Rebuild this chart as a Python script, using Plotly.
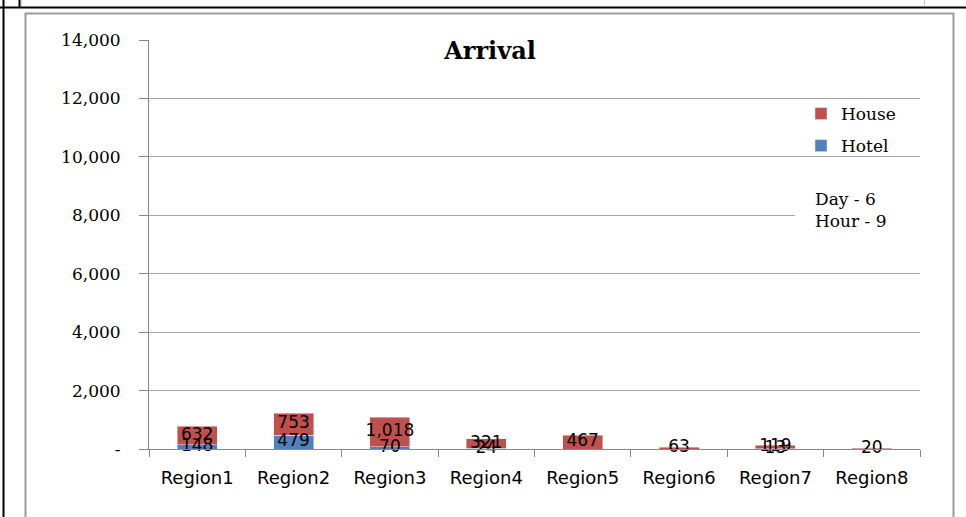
import plotly.graph_objects as go

categories = ["Region1", "Region2", "Region3", "Region4", "Region5", "Region6", "Region7", "Region8"]
hotel = [148, 479, 70, 24, 0, 0, 13, 0]
house = [632, 753, 1018, 321, 467, 63, 119, 20]
y_tickvals = [0, 2000, 4000, 6000, 8000, 10000, 12000, 14000]
y_ticktext = ["-", "2,000", "4,000", "6,000", "8,000", "10,000", "12,000", "14,000"]
title_text = "Arrival"
info_text = "Day - 6<br>Hour - 9"

RED = "#C0504D"
BLUE = "#4F81BD"
GRID = "#a6a6a6"
AXIS = "#888888"

fig = go.Figure()
fig.add_trace(go.Bar(x=categories, y=hotel, name="Hotel", marker_color=BLUE,
                     legendgroup="b", legendrank=2, hoverinfo="x+y+name"))
fig.add_trace(go.Bar(x=categories, y=house, name="House", marker_color=RED,
                     legendgroup="a", legendrank=1, hoverinfo="x+y+name"))

# data labels centred in each segment
lab_font = dict(family="DejaVu Sans", size=17, color="black")
fig.add_trace(go.Scatter(
    x=categories, y=[h / 2 for h in hotel], mode="text",
    text=[f"{v:,}" if v else "" for v in hotel], textfont=lab_font,
    cliponaxis=False, showlegend=False, hoverinfo="skip"))
fig.add_trace(go.Scatter(
    x=categories, y=[h + v / 2 for h, v in zip(hotel, house)], mode="text",
    text=[f"{v:,}" if v else "" for v in house], textfont=lab_font,
    cliponaxis=False, showlegend=False, hoverinfo="skip"))

L, R, T, B = 149, 46, 40, 68
W, H = 966, 517
pw, ph = W - L - R, H - T - B

def px(x):
    return (x - L) / pw

def py(y):
    return (H - B - y) / ph

shapes = [
    # chart frame
    dict(type="rect", xref="paper", yref="paper", x0=px(25.5), x1=px(953.5),
         y0=py(13.5), y1=py(540), line=dict(color="#9a9a9a", width=2), layer="below"),
    # page lines
    dict(type="line", xref="paper", yref="paper", x0=px(3.5), x1=px(3.5),
         y0=py(0), y1=py(540), line=dict(color="black", width=2)),
    dict(type="line", xref="paper", yref="paper", x0=px(0), x1=px(966),
         y0=py(7.5), y1=py(7.5), line=dict(color="black", width=2)),
    dict(type="line", xref="paper", yref="paper", x0=px(19.5), x1=px(19.5),
         y0=py(0), y1=py(7.5), line=dict(color="black", width=2)),
    dict(type="line", xref="paper", yref="paper", x0=px(21.5), x1=px(21.5),
         y0=py(0), y1=py(6), line=dict(color="#cccccc", width=1)),
    dict(type="line", xref="paper", yref="paper", x0=px(924.5), x1=px(924.5),
         y0=py(0), y1=py(6), line=dict(color="#cccccc", width=1)),
    # white box behind Day/Hour text
    dict(type="rect", xref="paper", yref="paper", x0=px(795), x1=px(921),
         y0=py(240), y1=py(178), fillcolor="white", line=dict(width=0), layer="above"),
]

fig.update_layout(
    width=W, height=H,
    margin=dict(l=L, r=R, t=T, b=B),
    paper_bgcolor="white", plot_bgcolor="white",
    barmode="stack", bargap=0.585,
    showlegend=True,
    legend=dict(x=px(801), y=py(96), xanchor="left", yanchor="top",
                traceorder="grouped", tracegroupgap=7,
                font=dict(family="DejaVu Serif", size=17, color="black"),
                bgcolor="rgba(0,0,0,0)"),
    title=dict(text=title_text, x=490 / W, y=1 - 51 / H, xref="container", yref="container",
               xanchor="center", yanchor="middle",
               font=dict(family="DejaVu Serif", size=24, color="black", weight="bold")),
    shapes=shapes,
    annotations=[dict(text=info_text, xref="paper", yref="paper", x=px(813), y=py(210),
                      xanchor="left", yanchor="middle", align="left", showarrow=False,
                      font=dict(family="DejaVu Serif", size=17, color="black"))],
    xaxis=dict(showline=True, linecolor=AXIS, linewidth=1, ticks="outside",
               tickson="boundaries", ticklen=7, tickcolor=AXIS, showgrid=False,
               tickfont=dict(family="DejaVu Sans", size=18, color="black"),
               ticklabelstandoff=12),
    yaxis=dict(range=[0, 14000], tickvals=y_tickvals, ticktext=y_ticktext,
               showline=True, linecolor=AXIS, linewidth=1, ticks="outside",
               ticklen=9, tickcolor=AXIS, showgrid=True, gridcolor=GRID, gridwidth=1,
               zeroline=False,
               tickfont=dict(family="DejaVu Serif", size=17, color="black"),
               ticklabelstandoff=15),
)

fig.write_html("out.html", config={"displayModeBar": False},
               post_script="document.body.style.margin='0';document.body.style.overflow='hidden';")
